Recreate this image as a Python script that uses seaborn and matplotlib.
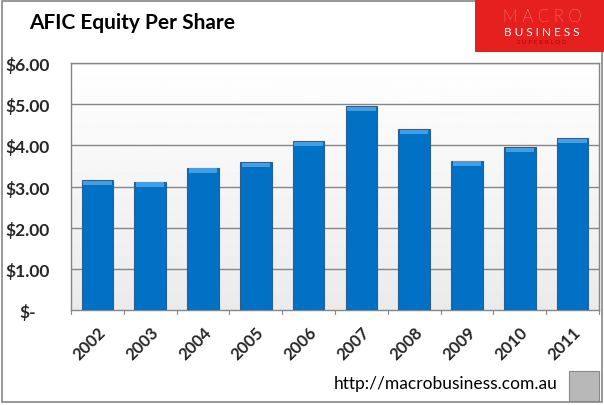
import numpy as np
import pandas as pd
import matplotlib
matplotlib.use("Agg")
import matplotlib.pyplot as plt
from matplotlib.patches import Rectangle
import seaborn as sns

years = ["2002", "2003", "2004", "2005", "2006", "2007", "2008", "2009", "2010", "2011"]
equity = [3.15, 3.12, 3.46, 3.59, 4.10, 4.95, 4.39, 3.63, 3.95, 4.17]
ytick_vals = [0, 1, 2, 3, 4, 5, 6]
ytick_labels = ["$-", "$1.00", "$2.00", "$3.00", "$4.00", "$5.00", "$6.00"]

sns.set_theme(style="white")
plt.rcParams['font.family'] = ['Lato', 'DejaVu Sans']

fig = plt.figure(figsize=(6.04, 4.06), dpi=100)
ax = fig.add_axes([71/604, 1-311/406, (599-71)/604, (311-64)/406])

df = pd.DataFrame({"year": years, "equity": equity})

# gradient background
grad = np.linspace(0.92, 1.0, 256).reshape(-1, 1)
ax.imshow(grad, extent=[0, 1, 0, 1], transform=ax.transAxes, aspect="auto",
          cmap="gray", vmin=0, vmax=1, origin="lower", zorder=0)

sns.barplot(data=df, x="year", y="equity", color="#0071C5", width=0.6,
            edgecolor="#2A5F8F", linewidth=0.8, saturation=1, ax=ax, zorder=3)

# bevel highlight on top of bars
for p in list(ax.patches):
    x0, w, h = p.get_x(), p.get_width(), p.get_height()
    ax.add_patch(Rectangle((x0 + w*0.05, h - 0.12), w*0.90, 0.1,
                           facecolor="#3FA0E8", edgecolor="none", zorder=4))

ax.set_ylim(0, 6)
ax.set_xlim(-0.5, len(years) - 0.5)
ax.set_yticks(ytick_vals)
ax.set_yticklabels(ytick_labels, fontsize=12.5, fontweight="bold")
ax.set_xticks(range(len(years)))
ax.set_xticklabels(years, rotation=45, fontsize=12, fontweight="bold",
                   ha="right", rotation_mode="anchor")
ax.set_xlabel("")
ax.set_ylabel("")
ax.tick_params(axis="y", length=0, pad=31)
ax.tick_params(axis="x", length=0, pad=10)
for lab in ax.get_yticklabels():
    lab.set_horizontalalignment("center")
for v in ytick_vals[1:]:
    ax.axhline(v, color="#868686", linewidth=1, zorder=1)
# minor ticks between categories
for i in range(len(years) + 1):
    ax.plot([i - 0.5, i - 0.5], [0, -0.1], color="#868686", lw=0.8,
            clip_on=False, zorder=2)
for s in ax.spines.values():
    s.set_color("#868686")
    s.set_linewidth(1)

ax.grid(False)

# title
fig.text(29/604, 1-23/406, "AFIC Equity Per Share", fontsize=15, fontweight="bold",
         ha="left", va="center", color="black")

# logo box
fig.patches.append(Rectangle((475/604, 1-53/406), 129/604, 53/406,
                             transform=fig.transFigure, facecolor="#E5201E",
                             edgecolor="none", zorder=5))
fig.text(542/604, 1-17/406, "M A C R O", fontsize=12, color="white", ha="center",
         va="center", zorder=6, fontweight="light")
fig.text(542/604, 1-32/406, "B U S I N E S S", fontsize=8.5, color="white", ha="center",
         va="center", zorder=6)
fig.text(542/604, 1-43/406, "S U P E R B L O G", fontsize=4.5, color="#9A1010",
         ha="center", va="center", zorder=6)

# footer
fig.text(558/604, 1-384/406, "http://macrobusiness.com.au", fontsize=12.5,
         ha="right", va="center", color="black")
fig.patches.append(Rectangle((569/604, 1-402/406), 30/604, 30/406,
                             transform=fig.transFigure, facecolor="#B8B8B8",
                             edgecolor="#888888", linewidth=0.8, zorder=5))

# outer frame
fig.patches.append(Rectangle((2/604, 3/406), 600/604, 401/406,
                             transform=fig.transFigure, fill=False,
                             edgecolor="#868686", linewidth=1.2, zorder=4))

fig.savefig("out.png", dpi=100)
